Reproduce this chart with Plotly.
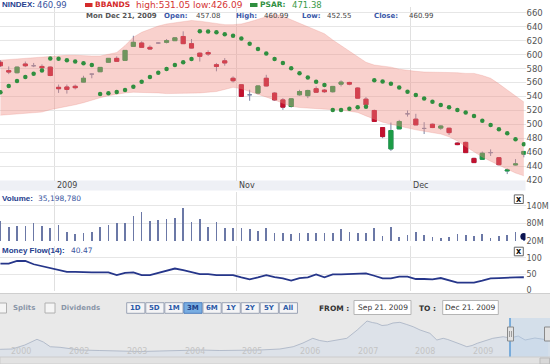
import plotly.graph_objects as go

W, H = 550, 364
FONT = "DejaVu Sans"
NARROW = "Liberation Sans"


def fx(p):
    return p / W


def fy(p):
    return 1 - p / H


# ---------------- data ----------------
day_index = list(range(64))
opens = [589, 577, 574, 586.5, 584, 583, 582, 553, 553.5, 554.5,
         560.5, 572, 575.4, 589, 594.6, 591.7, 611.8, 616.6, 610.4, 616.6,
         617.6, 620, 626, 615.7, 602, 603, 585.5, 591, 566, 556.7,
         542.3, 544.7, 566, 544.7, 535, 525.5, 542.3, 541, 551, 549,
         546.7, 557.6, 560, 552, 536, 519.8, 495.3, 464.6, 493.4, 515,
         507.3, 494, 500, 494.5, 494.3, 473, 474, 451, 449.7, 459.3,
         452, 433, 441.6, 457.08]
highs = [592, 583, 583, 590, 588, 586, 583, 557, 557, 557,
         569.6, 572.5, 582, 595, 597.5, 606.5, 627, 619, 613.3, 617.5,
         622.4, 624.5, 633.4, 622.4, 603, 606, 588, 595, 568.7, 557,
         549.5, 556, 571, 546, 537.5, 537, 549.5, 549.5, 554.3, 550.5,
         555, 563, 561, 553, 539, 521, 495.5, 502.5, 506.3, 519.8,
         515, 503, 501, 498.5, 495, 474, 475, 452, 460.8, 464,
         453, 436.5, 450, 460.99]
lows = [582, 572, 573, 582, 582, 579, 569, 545, 544, 550,
        560, 566, 575, 588, 590, 591, 611, 610, 607, 615.5,
        616, 619.5, 615.5, 609, 590, 598, 576, 584, 560, 539.5,
        533.7, 543, 554.5, 534, 520.7, 524, 541, 537.5, 545.5, 545,
        545.5, 554.3, 556, 537, 524.6, 503.5, 480, 461.7, 493, 511,
        499, 486, 494.5, 492, 484.7, 470, 459, 444.5, 448.8, 454.5,
        441, 428.5, 441, 452.55]
closes = [584, 575, 582, 584, 584, 581, 570, 551, 550, 552.5,
          566, 572, 581.6, 594.6, 590.3, 606, 617.6, 610.4, 608, 616.6,
          620, 624, 615.7, 609.4, 597.5, 600.8, 583, 588, 562.5, 540,
          542.3, 555, 555, 535, 524.6, 536.5, 547, 548.5, 546, 546.7,
          554.3, 560.5, 557.6, 537.5, 528, 504, 482.3, 491, 504, 515,
          499.1, 494, 495.3, 497.5, 488, 470.8, 459.3, 445, 458.4, 459.3,
          442, 434.4, 443, 460.99]
bb_upper = [592, 593, 594, 595, 596, 597, 598, 599, 599, 599,
            598, 598, 598, 600, 603, 613, 625, 632, 637, 641,
            644, 646, 648, 649, 648, 646, 644, 643, 643, 644,
            647, 651, 655, 658, 655, 650, 646, 641, 636, 630,
            621, 613, 605, 596, 589, 585, 584, 582, 579, 577,
            576, 575, 575, 574, 574, 574, 573, 573, 570, 566,
            558, 549, 541, 532]
bb_lower = [513, 514, 515, 516, 517, 517.5, 521, 523, 525, 528,
            531, 535, 538, 541, 543.5, 545, 546, 546, 545, 545,
            544, 544, 544, 544, 545, 546, 547, 550, 553, 551,
            547, 544, 540, 535, 530, 526, 524, 523, 522, 521,
            521, 520.5, 519, 517, 512, 507, 503, 500, 497, 495,
            492, 490, 488, 486, 482, 476, 468, 460, 453, 447,
            441, 435, 430, 426]
psar = [546, 555, 562, 568, 572.5, 577, 594.5, 594, 592, 590,
        587.5, 585, 543.5, 544.5, 546.3, 549.3, 554, 561.2, 568, 574,
        579.5, 585, 589, 593.6, 633.4, 633, 632, 629.3, 627, 623,
        615.5, 608.2, 601.5, 593.6, 588, 580.3, 573.2, 567, 561, 556.3,
        520.6, 520.6, 522.2, 524.3, 525.3, 563, 561.5, 558, 552.8, 546.8,
        542, 537, 532.4, 527.8, 524.3, 520.5, 516.8, 512, 505, 499,
        493, 487, 478.4, 471.38]
volume_m = [88, 68.6, 72, 72, 82, 72, 63, 74.4, 49.5, 42.8,
            46, 49.5, 66.6, 74.4, 82, 82, 105, 119.7, 88, 91.4,
            93.8, 97, 133, 85.6, 93.8, 68.6, 85.6, 65, 63, 63,
            60, 55, 63, 46, 48, 42.8, 46, 48, 46, 48,
            48, 59.8, 51.6, 48, 46, 63, 38, 66.6, 34.6, 40.4,
            51.6, 40.4, 32.6, 29, 32.6, 42.8, 40.4, 38, 43.6, 31,
            37, 40.4, 51.6, 35.19878]
mfi = [82, 82, 90, 90, 80, 74, 67, 62, 57, 57,
       55, 55, 55, 55, 47, 54, 55, 47, 47, 54,
       60, 67, 62, 55, 50, 50, 47, 47, 47, 40,
       34, 40, 47, 41, 37, 30, 38, 40, 49, 40,
       49, 49, 50, 50, 52, 45, 37, 37, 42, 42,
       35, 35, 34, 38, 32, 24, 24, 24, 30, 37,
       38, 40, 40, 40.47]

month_ticks = [6.45, 28.4, 49.3]
month_labels = ["2009", "Nov", "Dec"]
price_ticks = [420, 440, 460, 480, 500, 520, 540, 560, 580, 600, 620, 640, 660]
volume_ticks = [20, 80, 140]
volume_tick_labels = ["20M", "80M", "140M"]
mfi_ticks = [0, 50, 100]

nav_years = [2000.63, 2000.84, 2001.06, 2001.27, 2001.38, 2001.50, 2001.67, 2001.85, 2002.02, 2002.36,
             2002.66, 2003.06, 2003.40, 2003.75, 2004.10, 2004.44, 2004.79, 2005.14, 2005.48, 2005.71,
             2005.88, 2006.05, 2006.17, 2006.30, 2006.47, 2006.64, 2006.82, 2006.99, 2007.08, 2007.16,
             2007.25, 2007.34, 2007.44, 2007.56, 2007.68, 2007.79, 2007.91, 2008.08, 2008.20, 2008.31,
             2008.39, 2008.48, 2008.60, 2008.72, 2008.81, 2008.90, 2009.03, 2009.17, 2009.35, 2009.47,
             2009.61, 2009.73, 2009.90, 2010.13]
nav_values = [217, 225, 325, 467, 400, 282, 267, 225, 200, 187,
              175, 162, 175, 187, 200, 187, 187, 200, 225, 282,
              375, 492, 437, 407, 450, 492, 700, 925, 887, 867,
              812, 825, 875, 892, 837, 782, 700, 617, 450, 492,
              462, 407, 350, 282, 312, 367, 425, 492, 532, 500,
              550, 450, 500, 450]
nav_tick_years = [2001, 2002, 2003, 2004, 2005, 2006, 2007, 2008, 2009]
nav_tick_labels = ["2000", "2002", "2003", "2004", "2005", "2006", "2007", "2008", "2009"]

range_buttons = ["1D", "5D", "1M", "3M", "6M", "1Y", "2Y", "5Y", "All"]
active_button = "3M"
date_from = "Sep 21. 2009"
date_to = "Dec 21. 2009"

header_symbol = "NINDEX:"
header_last = "460.99"
bb_label = "BBANDS"
bb_text = "high:531.05 low:426.09"
psar_label = "PSAR:"
psar_text = "471.38"
ohlc_date = "Mon Dec 21, 2009"
ohlc_labels = ["Open:", "High:", "Low:", "Close:"]
ohlc_values = ["457.08", "460.99", "452.55", "460.99"]
volume_title = "Volume:"
volume_text = "35,198,780"
mfi_title = "Money Flow(14):"
mfi_text = "40.47"

# ---------------- styles ----------------
GREEN = "#1c9c46"
RED = "#c2122e"
WICK = "#7c86a6"
PSAR_C = "#2f8f3f"
NAVY = "#26408e"
GRID = "#e6e6e6"
VGRID = "#e0e0e0"
TICKC = "#555555"

body_open, body_high, body_low, body_close = [], [], [], []
for o, c in zip(opens, closes):
    if abs(c - o) < 0.3:
        body_open.append(None); body_high.append(None); body_low.append(None); body_close.append(None)
    else:
        body_open.append(o); body_close.append(c)
        body_high.append(max(o, c)); body_low.append(min(o, c))

fig = go.Figure()

# Bollinger band
fig.add_trace(go.Scatter(x=day_index, y=bb_lower, mode="lines",
                         line=dict(color="rgba(232,130,120,0.30)", width=0.8),
                         hoverinfo="skip", xaxis="x", yaxis="y"))
fig.add_trace(go.Scatter(x=day_index, y=bb_upper, mode="lines", fill="tonexty",
                         fillcolor="rgba(240,140,130,0.40)",
                         line=dict(color="rgba(232,130,120,0.30)", width=0.8),
                         hoverinfo="skip", xaxis="x", yaxis="y"))
# PSAR
fig.add_trace(go.Scatter(x=day_index, y=psar, mode="markers",
                         marker=dict(color=PSAR_C, size=4.5, symbol="circle"),
                         xaxis="x", yaxis="y"))
# wicks
fig.add_trace(go.Candlestick(x=day_index, open=opens, high=highs, low=lows, close=closes,
                             increasing=dict(line=dict(color=WICK, width=1), fillcolor=WICK),
                             decreasing=dict(line=dict(color=WICK, width=1), fillcolor=WICK),
                             whiskerwidth=0, xaxis="x", yaxis="y"))
# bodies
fig.add_trace(go.Candlestick(x=day_index, open=body_open, high=body_high, low=body_low, close=body_close,
                             increasing=dict(line=dict(color=GREEN, width=1), fillcolor=GREEN),
                             decreasing=dict(line=dict(color=RED, width=1), fillcolor=RED),
                             whiskerwidth=0, xaxis="x", yaxis="y"))
# volume
fig.add_trace(go.Bar(x=day_index, y=volume_m, width=0.2, marker=dict(color="#6b78a6", line=dict(width=0)),
                     xaxis="x2", yaxis="y2"))
fig.add_trace(go.Scatter(x=[day_index[-1]], y=[volume_m[-1]], mode="markers",
                         marker=dict(color="#0b1452", size=7), xaxis="x2", yaxis="y2"))
# money flow
fig.add_trace(go.Scatter(x=day_index, y=mfi, mode="lines", line=dict(color="#26368a", width=1.8),
                         xaxis="x3", yaxis="y3"))
# navigator
fig.add_trace(go.Scatter(x=nav_years, y=nav_values, mode="lines", fill="tozeroy",
                         fillcolor="#dde2e9", line=dict(color="#b3bccb", width=1),
                         xaxis="x4", yaxis="y4"))

# ---------------- layout ----------------
XR = [-0.05, 63.2]
XDOM = [0, fx(525.5)]


def ydom(top, bottom):
    return [fy(bottom), fy(top)]


tickfont = dict(family=FONT, size=8.5, color=TICKC)
common_x = dict(range=XR, domain=XDOM, tickvals=month_ticks, showticklabels=False, showgrid=True,
                gridcolor=VGRID, gridwidth=1, zeroline=False, showline=False, ticks="", fixedrange=True,
                automargin=False)

main_lo = 420 - (181 - 180) / 0.6967
main_hi = 420 + (180 - 7) / 0.6967
vol_px = 0.2942
vol_hi = 20 + (241 - 192) / vol_px
mfi_px = 0.328
mfi_hi = (290.5 - 246) / mfi_px

yax_common = dict(side="right", showgrid=True, gridcolor=GRID, zeroline=False, ticks="",
                  fixedrange=True, automargin=False)

layout = dict(
    width=W, height=H, margin=dict(l=0, r=0, t=0, b=0, autoexpand=False),
    paper_bgcolor="white", plot_bgcolor="rgba(0,0,0,0)",
    showlegend=False, hovermode=False, bargap=0,
    xaxis=dict(**common_x, anchor="y", rangeslider=dict(visible=False)),
    yaxis=dict(domain=ydom(7, 181), range=[main_lo, main_hi], anchor="x",
               tickvals=price_ticks, tickfont=tickfont, **yax_common),
    xaxis2=dict(**common_x, anchor="y2"),
    yaxis2=dict(domain=ydom(192, 241), range=[20, vol_hi], anchor="x2",
                tickvals=volume_ticks, ticktext=volume_tick_labels,
                tickfont=dict(family=FONT, size=8, color=TICKC), **yax_common),
    xaxis3=dict(**common_x, anchor="y3"),
    yaxis3=dict(domain=ydom(246, 290.5), range=[0, mfi_hi], anchor="x3",
                tickvals=mfi_ticks, tickfont=dict(family=FONT, size=8, color=TICKC), **yax_common),
    xaxis4=dict(domain=[0, 1], range=[2009 + (0 - 483) / 57.7, 2009 + (550 - 483) / 57.7], anchor="y4",
                showticklabels=False, showgrid=False, zeroline=False, showline=False, fixedrange=True),
    yaxis4=dict(domain=ydom(318, 358), range=[0, 1000], anchor="x4", showticklabels=False,
                showgrid=False, zeroline=False, showline=False, fixedrange=True),
)

shapes = []
ann = []


def rect(x0, y0, x1, y1, fill, line=None, lw=1, layer="above"):
    shapes.append(dict(type="rect", xref="paper", yref="paper", x0=fx(x0), x1=fx(x1), y0=fy(y1), y1=fy(y0),
                       fillcolor=fill, line=dict(color=line or fill, width=lw if line else 0), layer=layer))


def hline(x0, x1, y, color, lw=1, layer="above"):
    shapes.append(dict(type="line", xref="paper", yref="paper", x0=fx(x0), x1=fx(x1), y0=fy(y), y1=fy(y),
                       line=dict(color=color, width=lw), layer=layer))


def vline(x, y0, y1, color, lw=1, layer="above"):
    shapes.append(dict(type="line", xref="paper", yref="paper", x0=fx(x), x1=fx(x), y0=fy(y0), y1=fy(y1),
                       line=dict(color=color, width=lw), layer=layer))


def txt(x, y, s, size, color, bold=False, anchor="left", family=FONT):
    ann.append(dict(x=fx(x), y=fy(y), xref="paper", yref="paper", text=f"<b>{s}</b>" if bold else s,
                    showarrow=False, xanchor=anchor, yanchor="middle", borderpad=0,
                    font=dict(family=family, size=size, color=color)))


# x label band
rect(0, 180.5, 525.5, 190.5, "#eef0f5", layer="below")
for t, lab in zip(month_ticks, month_labels):
    ann.append(dict(x=t, y=fy(185.5), xref="x", yref="paper", text=lab, showarrow=False,
                    xanchor="left", yanchor="middle", xshift=1,
                    font=dict(family=FONT, size=8, color="#444")))

# header row 1
txt(0.5, 5, header_symbol, 8, NAVY, bold=True, family=NARROW)
txt(36, 5, header_last, 8.5, "#3a55a0")
rect(85, 3, 92.5, 7, "#d42a2a")
txt(94, 5, bb_label, 7.5, "#d42a2a", bold=True)
txt(135, 5, bb_text, 9, "#d43434")
rect(250, 3, 257.5, 7, PSAR_C)
txt(259, 5, psar_label, 7.5, PSAR_C, bold=True)
txt(291, 5, psar_text, 8.5, "#3a9a4a")

# header row 2
txt(85, 16.5, ohlc_date, 7, "#555555", bold=True)
lab_x = [163, 235, 301, 373]
val_x = [195, 263, 326, 408]
for lx, vx, lab, val in zip(lab_x, val_x, ohlc_labels, ohlc_values):
    txt(lx, 16.5, lab, 7, "#3a58a8", bold=True)
    txt(vx, 16.5, val, 7, "#444444")

# lower panel titles
txt(0.5, 198.5, volume_title, 8, NAVY, bold=True, family=NARROW)
txt(37, 198.5, volume_text, 7.5, "#3a55a0")
txt(0.5, 250.5, mfi_title, 8, NAVY, bold=True, family=NARROW)
txt(70, 250.5, mfi_text, 7.5, "#3a55a0")

# close buttons
for yc in (199.2, 251.5):
    rect(514.3, yc - 4.3, 523.3, yc + 4.3, "white", line="#666666", lw=1)
    txt(518.8, yc, "x", 8, "#111111", bold=True, anchor="center")

# bottom controls area
rect(0, 293.5, 550, 364, "#e9e9e9", layer="below")
hline(0, 550, 293.5, "#cfcfcf")

# checkboxes
rect(-3, 303, 6.5, 313, "#f5f5f5", line="#b0b0b0")
txt(12, 308, "Splits", 7, "#8a96a8", bold=True)
rect(45, 303, 55, 313, "#f5f5f5", line="#b0b0b0")
txt(60, 308, "Dividends", 7, "#8a96a8", bold=True)

# range buttons
for k, lab in enumerate(range_buttons):
    x0 = 126.7 + k * 19.07
    x1 = x0 + 18.2
    active = lab == active_button
    rect(x0, 302.7, x1, 313.3, "#78ade2" if active else "#f4f4f6",
         line="#4f7fbf" if active else "#9aa3b5")
    txt((x0 + x1) / 2, 308, lab, 7, "#1e3f88" if active else "#2c5aa8", bold=True, anchor="center")

# date inputs
txt(318, 308, "FROM :", 7.5, "#333333", bold=True)
rect(354, 300.5, 411, 314.5, "white", line="#b5b5b5")
txt(382.5, 307.8, date_from, 7.5, "#333333", anchor="center")
txt(418, 308, "TO :", 7.5, "#333333", bold=True)
rect(442.7, 300.5, 498.3, 314.5, "white", line="#b5b5b5")
txt(470.5, 307.8, date_to, 7.5, "#333333", anchor="center")

# navigator year labels
for yv, lab in zip(nav_tick_years, nav_tick_labels):
    ann.append(dict(x=yv, y=fy(351.5), xref="x4", yref="paper", text=lab, showarrow=False,
                    xanchor="center", yanchor="middle",
                    font=dict(family=FONT, size=8, color="#c4c4c4")))

# navigator selection + handles
rect(510, 318, 550, 357, "rgba(175,205,238,0.35)")
vline(510, 318, 357, "#5b9bd5", lw=1.5)
rect(507.5, 327, 513.5, 341, "#e2e2e2", line="#8a8a8a")
rect(544.5, 327, 550.5, 341, "#e2e2e2", line="#8a8a8a")
for xg in (509.5, 511.5):
    vline(xg, 331, 337, "#8a8a8a", lw=0.8)

# scrollbar
rect(0, 357, 550, 364, "#e2e2e2", line="#cccccc")
rect(540, 358, 549.5, 364, "#d8d8d8", line="#bbbbbb")

layout["shapes"] = shapes
layout["annotations"] = ann
fig.update_layout(**layout)

fig.write_html("out.html", config={"displayModeBar": False, "staticPlot": True},
               post_script="document.body.style.margin='0px';document.body.style.padding='0px';"
                           "document.body.style.overflow='hidden';")
